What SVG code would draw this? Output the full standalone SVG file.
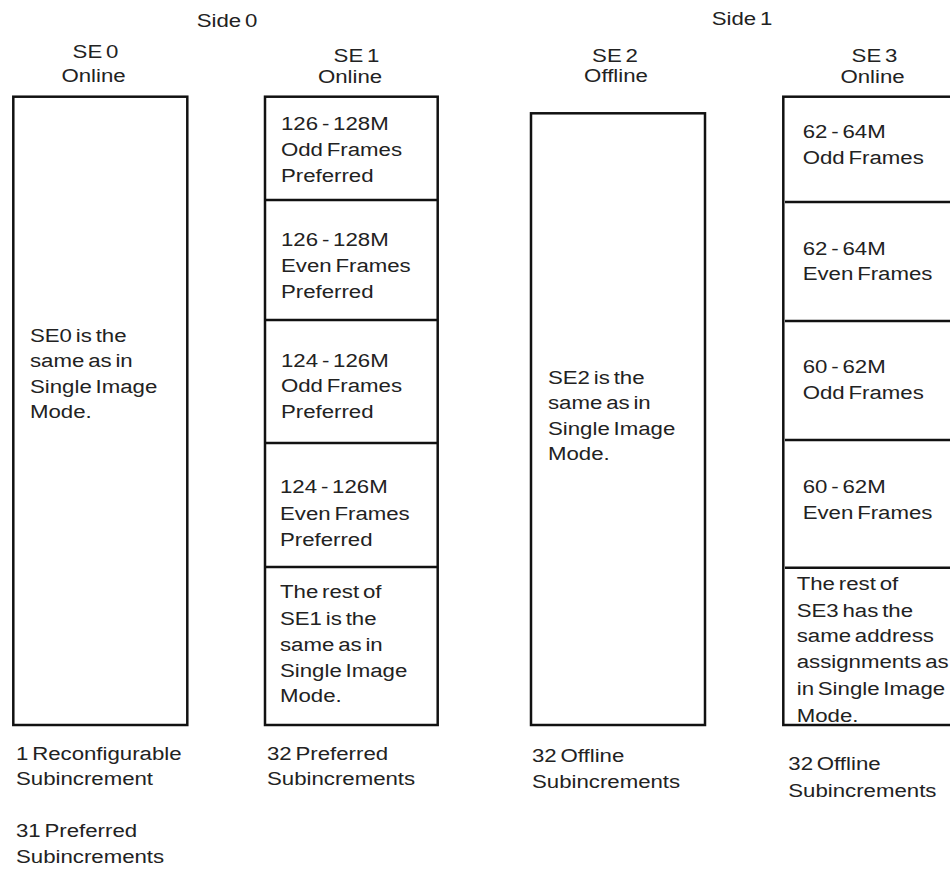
<svg xmlns="http://www.w3.org/2000/svg" width="950" height="869" viewBox="0 0 950 869">
<style>
text{font-family:"Liberation Sans",Arial,Helvetica,sans-serif;font-size:19px;fill:#222;word-spacing:-2px}
.c{text-anchor:middle}
.box{fill:none;stroke:#111;stroke-width:2.5}
.div{stroke:#111;stroke-width:2.5}
</style>
<rect width="950" height="869" fill="#fff"/>
<g id="side0"><text class="c" transform="translate(227,26.7) scale(1.17,1)">Side 0</text></g>
<g id="side1"><text class="c" transform="translate(742,25) scale(1.17,1)">Side 1</text></g>

<g id="se0">
<text class="c" transform="translate(95.5,58.3) scale(1.17,1)">SE 0</text>
<text class="c" transform="translate(93.5,81.7) scale(1.17,1)">Online</text>
<rect class="box" x="13.3" y="96.7" width="174" height="628.3"/>
<text transform="translate(30,341.7) scale(1.17,1)"><tspan x="0" y="0">SE0 is the</tspan><tspan x="0" y="25.5">same as in</tspan><tspan x="0" y="51">Single Image</tspan><tspan x="0" y="76.5">Mode.</tspan></text>
<text transform="translate(16,760) scale(1.17,1)"><tspan x="0" y="0">1 Reconfigurable</tspan><tspan x="0" y="25.3">Subincrement</tspan><tspan x="0" y="76.7">31 Preferred</tspan><tspan x="0" y="103.3">Subincrements</tspan></text>
</g>

<g id="se1">
<text class="c" transform="translate(356.5,61.7) scale(1.17,1)">SE 1</text>
<text class="c" transform="translate(350,83.3) scale(1.17,1)">Online</text>
<rect class="box" x="265" y="96.7" width="172.7" height="628.3"/>
<line class="div" x1="265" y1="200" x2="437.7" y2="200"/>
<line class="div" x1="265" y1="320" x2="437.7" y2="320"/>
<line class="div" x1="265" y1="443" x2="437.7" y2="443"/>
<line class="div" x1="265" y1="567" x2="437.7" y2="567"/>
<text transform="translate(281,130) scale(1.17,1)"><tspan x="0" y="0">126 - 128M</tspan><tspan x="0" y="26">Odd Frames</tspan><tspan x="0" y="51.7">Preferred</tspan></text>
<text transform="translate(281,246) scale(1.17,1)"><tspan x="0" y="0">126 - 128M</tspan><tspan x="0" y="26">Even Frames</tspan><tspan x="0" y="52.3">Preferred</tspan></text>
<text transform="translate(281,366.5) scale(1.17,1)"><tspan x="0" y="0">124 - 126M</tspan><tspan x="0" y="26">Odd Frames</tspan><tspan x="0" y="52">Preferred</tspan></text>
<text transform="translate(280,493.3) scale(1.17,1)"><tspan x="0" y="0">124 - 126M</tspan><tspan x="0" y="26.7">Even Frames</tspan><tspan x="0" y="52.7">Preferred</tspan></text>
<text transform="translate(280,598.3) scale(1.17,1)"><tspan x="0" y="0">The rest of</tspan><tspan x="0" y="26.7">SE1 is the</tspan><tspan x="0" y="52.7">same as in</tspan><tspan x="0" y="78.4">Single Image</tspan><tspan x="0" y="103.4">Mode.</tspan></text>
<text transform="translate(267,760) scale(1.17,1)"><tspan x="0" y="0">32 Preferred</tspan><tspan x="0" y="25.3">Subincrements</tspan></text>
</g>

<g id="se2">
<text class="c" transform="translate(615,61.7) scale(1.17,1)">SE 2</text>
<text class="c" transform="translate(616,82.3) scale(1.17,1)">Offline</text>
<rect class="box" x="531" y="113.3" width="174" height="611.7"/>
<text transform="translate(548,384) scale(1.17,1)"><tspan x="0" y="0">SE2 is the</tspan><tspan x="0" y="25.5">same as in</tspan><tspan x="0" y="51">Single Image</tspan><tspan x="0" y="76.5">Mode.</tspan></text>
<text transform="translate(532,761.7) scale(1.17,1)"><tspan x="0" y="0">32 Offline</tspan><tspan x="0" y="26.6">Subincrements</tspan></text>
</g>

<g id="se3">
<text class="c" transform="translate(874.5,61.7) scale(1.17,1)">SE 3</text>
<text class="c" transform="translate(872.5,83) scale(1.17,1)">Online</text>
<rect class="box" x="783.3" y="96.7" width="180" height="628.3"/>
<line class="div" x1="785" y1="202" x2="960" y2="202"/>
<line class="div" x1="785" y1="321" x2="960" y2="321"/>
<line class="div" x1="785" y1="440" x2="960" y2="440"/>
<line class="div" x1="785" y1="567.7" x2="960" y2="567.7"/>
<text transform="translate(802.7,138.3) scale(1.17,1)"><tspan x="0" y="0">62 - 64M</tspan><tspan x="0" y="25.7">Odd Frames</tspan></text>
<text transform="translate(802.7,255) scale(1.17,1)"><tspan x="0" y="0">62 - 64M</tspan><tspan x="0" y="25.5">Even Frames</tspan></text>
<text transform="translate(802.7,373) scale(1.17,1)"><tspan x="0" y="0">60 - 62M</tspan><tspan x="0" y="25.7">Odd Frames</tspan></text>
<text transform="translate(802.7,493) scale(1.17,1)"><tspan x="0" y="0">60 - 62M</tspan><tspan x="0" y="25.7">Even Frames</tspan></text>
<text transform="translate(796.7,590) scale(1.17,1)"><tspan x="0" y="0">The rest of</tspan><tspan x="0" y="26.7">SE3 has the</tspan><tspan x="0" y="51.7">same address</tspan><tspan x="0" y="78.3">assignments as</tspan><tspan x="0" y="105">in Single Image</tspan><tspan x="0" y="131.7">Mode.</tspan></text>
<text transform="translate(788.3,770) scale(1.17,1)"><tspan x="0" y="0">32 Offline</tspan><tspan x="0" y="26.7">Subincrements</tspan></text>
</g>
</svg>
